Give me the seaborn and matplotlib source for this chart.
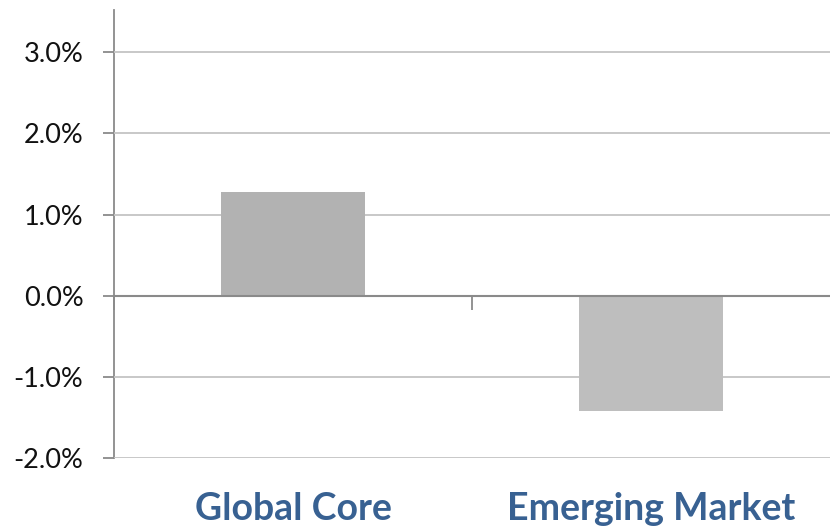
import matplotlib
matplotlib.use('Agg')
import matplotlib.pyplot as plt
from matplotlib.ticker import FuncFormatter, FixedLocator
import seaborn as sns
import pandas as pd

# Chart data.
categories = ['Global Core', 'Emerging Market']
values = [1.28, -1.42]
bar_colors = ['#b2b2b2', '#bebebe']
y_ticks = [-2, -1, 0, 1, 2, 3]

df = pd.DataFrame({'category': categories, 'value': values})

sns.set_style('white')
plt.rcParams['font.family'] = ['Lato', 'DejaVu Sans']

fig = plt.figure(figsize=(8.3, 5.3), dpi=100)
ax = fig.add_axes([0.1373, 0.1358, 0.8627, 0.8453])

sns.barplot(data=df, x='category', y='value', hue='category',
            palette=bar_colors, width=0.4, legend=False, ax=ax,
            linewidth=0, zorder=3)

ax.set_xlim(-0.5, 1.5)
ax.set_ylim(-2, 3.52)
ax.set_yticks(y_ticks)
ax.yaxis.set_major_formatter(FuncFormatter(lambda v, p: f'{v:.1f}%'))
ax.grid(axis='y', color='#c4c4c4', linewidth=1.3, zorder=0)
ax.set_axisbelow(False)
for line in ax.get_ygridlines():
    line.set_zorder(1)

# Spines: left axis line and the category axis at zero.
for side in ['top', 'right']:
    ax.spines[side].set_visible(False)
ax.spines['left'].set_color('#8a8a8a')
ax.spines['left'].set_linewidth(1.3)
ax.spines['bottom'].set_position(('data', 0))
ax.spines['bottom'].set_color('#8a8a8a')
ax.spines['bottom'].set_linewidth(1.5)
ax.spines['bottom'].set_zorder(4)

ax.tick_params(axis='y', left=True, direction='out', length=8, width=1.3,
               color='#8a8a8a', pad=14, labelsize=19.5, labelcolor='#111111')
ax.xaxis.set_minor_locator(FixedLocator([-0.5, 0.5]))
ax.tick_params(axis='x', which='minor', bottom=True, direction='out',
               length=10, width=1.3, color='#8a8a8a')
ax.tick_params(axis='x', which='major', length=0, pad=141)
for lbl in ax.get_xticklabels():
    lbl.set_fontsize(27)
    lbl.set_fontweight('bold')
    lbl.set_color('#386192')

ax.set_xlabel('')
ax.set_ylabel('')

fig.savefig('out.png', dpi=100)
